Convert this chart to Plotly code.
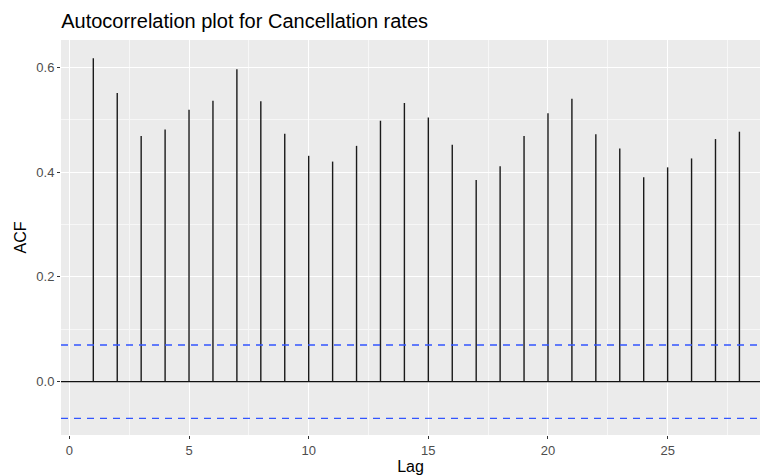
import plotly.graph_objects as go

lags = list(range(1, 29))
acf = [0.617, 0.551, 0.469, 0.481, 0.519, 0.536, 0.596, 0.535, 0.473, 0.431,
       0.420, 0.450, 0.498, 0.532, 0.504, 0.452, 0.385, 0.411, 0.469, 0.512,
       0.540, 0.472, 0.445, 0.390, 0.409, 0.426, 0.463, 0.477]
ci = 0.0699
title = "Autocorrelation plot for Cancellation rates"

xs, ys = [], []
for l, v in zip(lags, acf):
    xs += [l, l, None]
    ys += [0, v, None]

fig = go.Figure()
fig.add_trace(go.Scatter(x=xs, y=ys, mode="lines",
                         line=dict(color="#1a1a1a", width=1.4),
                         hoverinfo="skip", showlegend=False))

fig.add_hline(y=0, line=dict(color="#111111", width=1.3))
fig.add_hline(y=ci, line=dict(color="#3355ff", width=1.4, dash="7px,6px"))
fig.add_hline(y=-ci, line=dict(color="#3355ff", width=1.4, dash="7px,6px"))

fig.update_layout(
    width=760, height=475,
    margin=dict(l=61, r=0, t=40, b=40),
    paper_bgcolor="white", plot_bgcolor="#ebebeb",
    title=dict(text=title, x=0.0805, xanchor="left", y=0.955, yanchor="middle",
               font=dict(family="Liberation Sans, Arial", size=20, color="black")),
    font=dict(family="Liberation Sans, Arial"),
)
fig.update_xaxes(range=[-0.35, 28.86], tickmode="array", tickvals=[0, 5, 10, 15, 20, 25],
                 showgrid=True, gridcolor="white", gridwidth=1.2, zeroline=False,
                 ticks="outside", ticklen=3, tickcolor="#333333", tickwidth=1,
                 tickfont=dict(size=13, color="#4d4d4d"),
                 minor=dict(tickmode="array", tickvals=[2.5, 7.5, 12.5, 17.5, 22.5, 27.5],
                            showgrid=True, gridcolor="#f7f7f7", gridwidth=0.6, ticks=""),
                 title=dict(text="Lag", font=dict(size=16, color="black"), standoff=1))
fig.update_yaxes(range=[-0.1017, 0.652], tickmode="array", tickvals=[0, 0.2, 0.4, 0.6],
                 ticktext=["0.0", "0.2", "0.4", "0.6"],
                 showgrid=True, gridcolor="white", gridwidth=1.2, zeroline=False,
                 ticks="outside", ticklen=3, tickcolor="#333333", tickwidth=1,
                 tickfont=dict(size=13, color="#4d4d4d"),
                 minor=dict(tickmode="array", tickvals=[-0.1, 0.1, 0.3, 0.5],
                            showgrid=True, gridcolor="#f7f7f7", gridwidth=0.6, ticks=""),
                 title=dict(text="ACF", font=dict(size=16, color="black"), standoff=5))

fig.write_html("out.html")
